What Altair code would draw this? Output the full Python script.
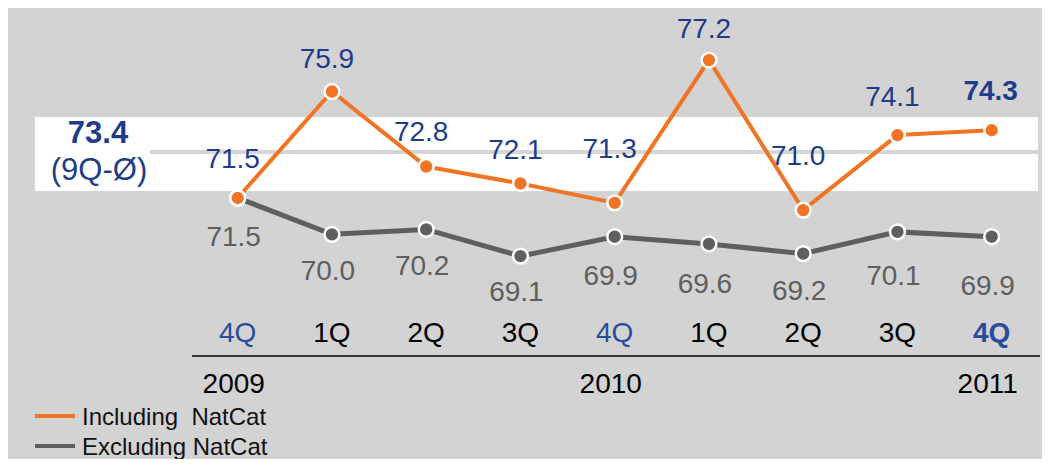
import altair as alt
import pandas as pd

# ---------------- data ----------------
quarters = ["4Q", "1Q", "2Q", "3Q", "4Q", "1Q", "2Q", "3Q", "4Q"]
including_natcat = [71.5, 75.9, 72.8, 72.1, 71.3, 77.2, 71.0, 74.1, 74.3]
excluding_natcat = [71.5, 70.0, 70.2, 69.1, 69.9, 69.6, 69.2, 70.1, 69.9]
years = ["2009", "2010", "2011"]
year_quarter_index = [0, 4, 8]
average_9q = 73.4
average_label = "(9Q-Ø)"
series_names = ["Including \u00a0NatCat", "Excluding NatCat"]

# ---------------- layout (label offsets in px from their points) ----------------
incl_label_dy = [-30, -24, -26, -24, -45, -22, -45, -29, -30]
excl_label_dy = [48, 46, 46, 45, 48, 49, 46, 53, 58]

FONT = "Liberation Sans"
ORANGE = "#f07423"
GRAY = "#5f5f5f"
BLUE = "#1f3c8a"
BLUE_Q = "#2a4c9c"
BG = "#d3d3d3"

W, H = 1034, 451
Y_DOMAIN = [60.715, 79.351]
PX_PER_UNIT = H / (Y_DOMAIN[1] - Y_DOMAIN[0])

df = pd.DataFrame({
    "idx": list(range(len(quarters))),
    "q": quarters,
    "incl": including_natcat,
    "excl": excluding_natcat,
    "incl_dy": incl_label_dy,
    "excl_dy": excl_label_dy,
})
last = len(quarters) - 1
df_years = pd.DataFrame({"idx": year_quarter_index, "year": years})
one = pd.DataFrame({"a": [0]})

xscale = alt.Scale(domain=[-2.4371, 8.5337], nice=False, zero=False)
yscale = alt.Scale(domain=Y_DOMAIN, nice=False, zero=False)
X = alt.X("idx:Q", scale=xscale, axis=None)


def Y(field):
    return alt.Y(field, scale=yscale, axis=None)


base = alt.Chart(df).transform_calculate(
    incl_ly=f"datum.incl - datum.incl_dy / {PX_PER_UNIT}",
    excl_ly=f"datum.excl - datum.excl_dy / {PX_PER_UNIT}",
)

band = alt.Chart(one).mark_rect(color="white").encode(
    x=alt.value(27), x2=alt.value(1030), y=alt.value(109), y2=alt.value(183)
)
avg_line = alt.Chart(one).mark_rule(color="#d6d6d6", strokeWidth=4).encode(
    y=alt.Y(datum=average_9q, scale=yscale, axis=None),
    x=alt.value(142), x2=alt.value(1030),
)
avg_num = alt.Chart(one).mark_text(
    font=FONT, fontSize=31, fontWeight="bold", color=BLUE, baseline="alphabetic"
).encode(x=alt.value(90), y=alt.value(135), text=alt.value(f"{average_9q:.1f}"))
avg_txt = alt.Chart(one).mark_text(
    font=FONT, fontSize=31, color=BLUE, baseline="alphabetic"
).encode(x=alt.value(91), y=alt.value(172), text=alt.value(average_label))

axis_rule = alt.Chart(one).mark_rule(color="black", strokeWidth=1.5).encode(
    x=alt.value(184), x2=alt.value(1032), y=alt.value(348)
)

excl_line = base.mark_line(color=GRAY, strokeWidth=5).encode(x=X, y=Y("excl:Q"))
incl_line = base.mark_line(color=ORANGE, strokeWidth=4).encode(x=X, y=Y("incl:Q"))
excl_pts = base.mark_circle(size=220, color=GRAY, opacity=1, stroke="white", strokeWidth=2.5).encode(
    x=X, y=Y("excl:Q"))
incl_pts = base.mark_circle(size=220, color=ORANGE, opacity=1, stroke="white", strokeWidth=2.5).encode(
    x=X, y=Y("incl:Q"))

incl_lbl = base.transform_filter(f"datum.idx < {last}").mark_text(
    font=FONT, fontSize=28, color=BLUE, baseline="alphabetic", dx=-5
).encode(x=X, y=Y("incl_ly:Q"), text=alt.Text("incl:Q", format=".1f"))
incl_lbl_last = base.transform_filter(f"datum.idx == {last}").mark_text(
    font=FONT, fontSize=28, fontWeight="bold", color=BLUE, baseline="alphabetic", dx=-1
).encode(x=X, y=Y("incl_ly:Q"), text=alt.Text("incl:Q", format=".1f"))
excl_lbl = base.mark_text(
    font=FONT, fontSize=28, color=GRAY, baseline="alphabetic", dx=-4
).encode(x=X, y=Y("excl_ly:Q"), text=alt.Text("excl:Q", format=".1f"))

q_lbl = base.transform_filter(f"datum.idx < {last}").mark_text(
    font=FONT, fontSize=28, baseline="alphabetic"
).encode(
    x=X, y=alt.value(334), text="q:N",
    color=alt.condition("datum.q == '4Q'", alt.value(BLUE_Q), alt.value("black")),
)
q_lbl_last = base.transform_filter(f"datum.idx == {last}").mark_text(
    font=FONT, fontSize=28, fontWeight="bold", baseline="alphabetic", color=BLUE_Q
).encode(x=X, y=alt.value(334), text="q:N")

year_lbl = alt.Chart(df_years).mark_text(
    font=FONT, fontSize=28, baseline="alphabetic", color="black", dx=-4
).encode(x=X, y=alt.value(385), text="year:N")

leg_incl_line = alt.Chart(one).mark_rule(color=ORANGE, strokeWidth=4).encode(
    x=alt.value(27), x2=alt.value(67), y=alt.value(408))
leg_excl_line = alt.Chart(one).mark_rule(color=GRAY, strokeWidth=4).encode(
    x=alt.value(27), x2=alt.value(67), y=alt.value(438))
leg_incl_txt = alt.Chart(one).mark_text(
    font=FONT, fontSize=24, align="left", baseline="alphabetic", color="#111111"
).encode(x=alt.value(74), y=alt.value(417), text=alt.value(series_names[0]))
leg_excl_txt = alt.Chart(one).mark_text(
    font=FONT, fontSize=24, align="left", baseline="alphabetic", color="#111111"
).encode(x=alt.value(74), y=alt.value(447), text=alt.value(series_names[1]))

chart = alt.layer(
    band, avg_line, avg_num, avg_txt, axis_rule,
    excl_line, incl_line, excl_pts, incl_pts,
    incl_lbl, incl_lbl_last, excl_lbl,
    q_lbl, q_lbl_last, year_lbl,
    leg_incl_line, leg_excl_line, leg_incl_txt, leg_excl_txt,
).properties(
    width=W, height=H, autosize=alt.AutoSizeParams(type="none"), padding=0
).configure(background=BG).configure_view(stroke=None)

chart.save("out.html", embed_options={"renderer": "svg", "actions": False})
